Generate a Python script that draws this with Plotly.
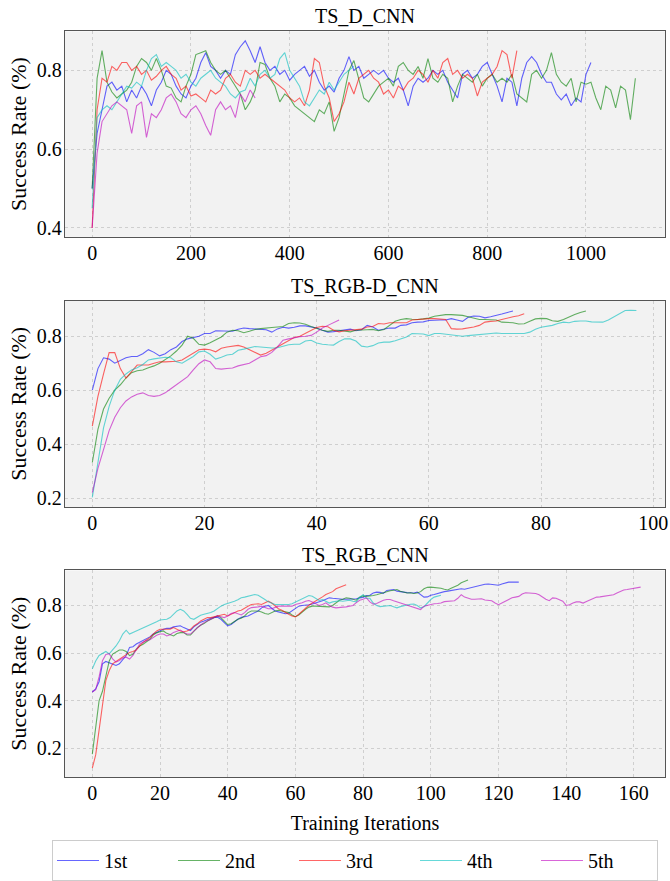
import plotly.graph_objects as go

# ---------------- data ----------------
run_names = ["1st", "2nd", "3rd", "4th", "5th"]

# TS_D_CNN (sampled every 10 iterations)
d_step = 10
d_1st = [0.50,0.64,0.70,0.76,0.77,0.75,0.76,0.72,0.75,0.73,0.76,0.74,0.71,0.75,0.77,0.80,0.79,0.76,0.74,0.73,
         0.76,0.78,0.82,0.845,0.81,0.80,0.78,0.80,0.79,0.84,0.86,0.875,0.85,0.82,0.86,0.82,0.80,0.81,0.79,0.80,
         0.775,0.79,0.80,0.81,0.785,0.80,0.77,0.75,0.76,0.745,0.78,0.80,0.835,0.80,0.81,0.78,0.79,0.80,0.79,0.80,
         0.78,0.77,0.78,0.75,0.71,0.76,0.78,0.77,0.78,0.80,0.79,0.80,0.77,0.75,0.73,0.79,0.80,0.78,0.79,0.81,
         0.82,0.79,0.76,0.72,0.78,0.77,0.71,0.78,0.82,0.835,0.82,0.79,0.77,0.77,0.74,0.725,0.74,0.71,0.73,0.72,
         0.79,0.82]
d_2nd = [0.50,0.78,0.85,0.77,0.745,0.73,0.74,0.75,0.77,0.81,0.83,0.82,0.80,0.83,0.80,0.76,0.755,0.73,0.72,0.76,
         0.79,0.84,0.845,0.85,0.82,0.80,0.79,0.80,0.78,0.76,0.74,0.70,0.72,0.75,0.82,0.815,0.78,0.76,0.72,0.74,
         0.73,0.71,0.70,0.69,0.68,0.67,0.70,0.69,0.72,0.645,0.68,0.74,0.80,0.825,0.78,0.73,0.72,0.74,0.76,0.77,
         0.78,0.76,0.81,0.82,0.80,0.79,0.81,0.78,0.83,0.78,0.77,0.79,0.78,0.72,0.76,0.79,0.78,0.77,0.79,0.76,
         0.78,0.79,0.77,0.78,0.77,0.79,0.74,0.73,0.72,0.79,0.80,0.78,0.80,0.845,0.79,0.77,0.76,0.78,0.72,0.77,
         0.765,0.77,0.73,0.70,0.76,0.75,0.705,0.76,0.75,0.675,0.78]
d_3rd = [0.40,0.70,0.78,0.77,0.81,0.80,0.82,0.82,0.80,0.81,0.79,0.80,0.775,0.785,0.80,0.81,0.79,0.78,0.75,0.76,
         0.735,0.74,0.73,0.72,0.75,0.74,0.75,0.78,0.79,0.77,0.76,0.80,0.79,0.80,0.78,0.79,0.78,0.77,0.76,0.75,
         0.73,0.72,0.73,0.71,0.75,0.83,0.82,0.76,0.73,0.67,0.69,0.72,0.77,0.74,0.78,0.79,0.80,0.78,0.77,0.74,
         0.75,0.73,0.76,0.75,0.77,0.78,0.80,0.79,0.77,0.80,0.78,0.82,0.83,0.79,0.80,0.78,0.79,0.78,0.735,0.77,
         0.78,0.79,0.81,0.85,0.84,0.78,0.85]
d_4th = [0.45,0.68,0.70,0.71,0.70,0.72,0.74,0.76,0.755,0.77,0.76,0.80,0.83,0.84,0.81,0.82,0.81,0.80,0.78,0.79,
         0.77,0.76,0.78,0.79,0.80,0.78,0.77,0.76,0.74,0.73,0.745,0.75,0.78,0.76,0.79,0.80,0.78,0.79,0.83,0.845,
         0.80,0.78,0.76,0.72,0.71,0.73,0.75,0.74,0.77,0.75,0.77,0.79,0.80,0.81]
d_5th = [0.40,0.59,0.67,0.69,0.71,0.72,0.71,0.70,0.64,0.71,0.72,0.63,0.69,0.68,0.70,0.73,0.74,0.72,0.69,0.68,
         0.70,0.71,0.69,0.66,0.635,0.70,0.72,0.70,0.71,0.68,0.74,0.72,0.75,0.73]

# TS_RGB-D_CNN (every iteration)
rgbd_1st = [0.60,0.68,0.72,0.715,0.70,0.71,0.72,0.725,0.725,0.735,0.75,0.74,0.727,0.735,0.75,0.76,0.78,0.79,0.795,0.80,
            0.81,0.81,0.82,0.82,0.82,0.818,0.826,0.83,0.828,0.826,0.826,0.824,0.815,0.827,0.833,0.83,0.833,0.838,0.838,0.835,
            0.83,0.822,0.815,0.817,0.82,0.823,0.826,0.82,0.824,0.84,0.834,0.822,0.826,0.83,0.83,0.84,0.842,0.85,0.852,0.853,
            0.858,0.86,0.86,0.86,0.865,0.86,0.855,0.87,0.875,0.874,0.868,0.872,0.876,0.882,0.888,0.893]
rgbd_2nd = [0.332,0.455,0.53,0.57,0.60,0.62,0.645,0.665,0.672,0.675,0.683,0.69,0.70,0.712,0.727,0.745,0.767,0.80,0.792,0.77,
            0.767,0.776,0.785,0.797,0.815,0.822,0.82,0.813,0.818,0.825,0.828,0.829,0.832,0.834,0.836,0.847,0.85,0.849,0.844,0.836,
            0.828,0.822,0.818,0.822,0.822,0.818,0.816,0.822,0.822,0.824,0.825,0.82,0.825,0.84,0.855,0.862,0.865,0.863,0.862,0.864,
            0.867,0.874,0.877,0.88,0.88,0.878,0.877,0.872,0.866,0.862,0.862,0.86,0.86,0.852,0.85,0.85,0.845,0.846,0.855,0.864,
            0.866,0.865,0.857,0.855,0.862,0.872,0.88,0.888,0.893]
rgbd_3rd = [0.467,0.577,0.66,0.739,0.739,0.68,0.645,0.67,0.693,0.693,0.693,0.70,0.705,0.705,0.705,0.707,0.712,0.725,0.737,0.75,
            0.752,0.75,0.742,0.755,0.76,0.763,0.766,0.76,0.75,0.74,0.73,0.737,0.75,0.76,0.772,0.785,0.795,0.80,0.81,0.822,
            0.832,0.837,0.835,0.822,0.816,0.82,0.822,0.822,0.826,0.834,0.836,0.847,0.845,0.85,0.85,0.848,0.85,0.86,0.862,0.863,
            0.865,0.865,0.863,0.862,0.828,0.826,0.827,0.83,0.834,0.84,0.852,0.855,0.856,0.862,0.868,0.872,0.876,0.883]
rgbd_4th = [0.203,0.33,0.46,0.54,0.60,0.64,0.66,0.675,0.683,0.695,0.712,0.716,0.72,0.722,0.72,0.705,0.70,0.712,0.725,0.742,
            0.745,0.733,0.715,0.722,0.73,0.733,0.748,0.752,0.758,0.762,0.76,0.757,0.756,0.757,0.763,0.768,0.77,0.77,0.782,0.785,
            0.775,0.77,0.768,0.767,0.78,0.79,0.79,0.782,0.763,0.76,0.765,0.775,0.778,0.778,0.783,0.79,0.797,0.81,0.81,0.808,
            0.802,0.81,0.81,0.807,0.805,0.802,0.80,0.802,0.804,0.806,0.808,0.81,0.812,0.81,0.81,0.808,0.81,0.81,0.815,0.826,
            0.833,0.836,0.84,0.847,0.852,0.85,0.855,0.856,0.856,0.853,0.853,0.852,0.86,0.872,0.885,0.895,0.896,0.895]
rgbd_5th = [0.22,0.31,0.38,0.45,0.50,0.535,0.56,0.575,0.585,0.59,0.58,0.577,0.58,0.59,0.605,0.62,0.635,0.65,0.675,0.698,
            0.712,0.705,0.68,0.678,0.68,0.682,0.69,0.695,0.70,0.712,0.724,0.728,0.74,0.76,0.785,0.79,0.795,0.798,0.80,0.803,
            0.815,0.83,0.84,0.85,0.86]

# TS_RGB_CNN (every iteration)
rgb_1st = [0.437,0.45,0.48,0.555,0.565,0.56,0.555,0.548,0.555,0.575,0.59,0.624,0.627,0.638,0.645,0.652,0.66,0.668,0.68,0.687,
           0.693,0.70,0.704,0.704,0.71,0.714,0.715,0.707,0.70,0.695,0.71,0.72,0.73,0.735,0.742,0.746,0.75,0.75,0.742,0.728,
           0.714,0.72,0.732,0.742,0.75,0.752,0.756,0.763,0.77,0.777,0.79,0.797,0.80,0.79,0.777,0.773,0.77,0.765,0.767,0.777,
           0.79,0.797,0.80,0.80,0.803,0.806,0.81,0.817,0.82,0.826,0.832,0.83,0.828,0.828,0.826,0.826,0.826,0.828,0.828,0.832,
           0.834,0.842,0.843,0.852,0.856,0.855,0.851,0.863,0.865,0.867,0.86,0.857,0.855,0.854,0.853,0.852,0.856,0.845,0.835,0.836,
           0.843,0.846,0.85,0.856,0.858,0.86,0.862,0.865,0.868,0.87,0.868,0.872,0.874,0.878,0.884,0.888,0.889,0.89,0.888,0.886,
           0.885,0.89,0.895,0.898,0.898,0.898,0.898]
rgb_2nd = [0.176,0.29,0.40,0.44,0.51,0.567,0.596,0.605,0.613,0.613,0.607,0.59,0.595,0.617,0.63,0.637,0.648,0.658,0.676,0.685,
           0.69,0.693,0.683,0.676,0.672,0.682,0.686,0.686,0.676,0.676,0.693,0.707,0.717,0.724,0.735,0.742,0.749,0.756,0.749,0.735,
           0.72,0.723,0.732,0.742,0.746,0.756,0.77,0.777,0.777,0.777,0.773,0.766,0.763,0.77,0.777,0.78,0.777,0.774,0.77,0.76,
           0.753,0.76,0.774,0.784,0.793,0.797,0.797,0.796,0.794,0.794,0.794,0.80,0.81,0.822,0.826,0.832,0.83,0.825,0.822,0.835,
           0.84,0.838,0.839,0.842,0.845,0.85,0.852,0.858,0.862,0.864,0.867,0.86,0.855,0.852,0.853,0.85,0.852,0.858,0.87,0.876,
           0.877,0.876,0.874,0.872,0.868,0.865,0.872,0.878,0.885,0.895,0.90,0.907]
rgb_3rd = [0.118,0.173,0.277,0.39,0.485,0.527,0.555,0.565,0.575,0.585,0.596,0.603,0.607,0.613,0.63,0.645,0.655,0.665,0.68,0.693,
           0.70,0.70,0.697,0.70,0.707,0.70,0.693,0.69,0.693,0.70,0.714,0.723,0.735,0.742,0.749,0.749,0.752,0.756,0.759,0.763,
           0.756,0.763,0.77,0.777,0.78,0.79,0.797,0.804,0.807,0.807,0.804,0.81,0.818,0.81,0.797,0.786,0.78,0.77,0.763,0.756,
           0.752,0.763,0.777,0.79,0.801,0.81,0.818,0.827,0.836,0.846,0.853,0.858,0.87,0.876,0.882,0.887]
rgb_4th = [0.534,0.567,0.59,0.60,0.607,0.597,0.613,0.63,0.652,0.68,0.696,0.68,0.687,0.693,0.70,0.707,0.711,0.717,0.724,0.732,
           0.739,0.739,0.742,0.749,0.763,0.777,0.784,0.777,0.763,0.746,0.742,0.752,0.759,0.763,0.766,0.77,0.777,0.788,0.797,0.804,
           0.808,0.814,0.818,0.824,0.832,0.835,0.839,0.843,0.846,0.843,0.835,0.825,0.815,0.808,0.804,0.804,0.803,0.804,0.804,0.807,
           0.814,0.821,0.828,0.835,0.842,0.839,0.829,0.821,0.825,0.818,0.81,0.815,0.818,0.82,0.818,0.82,0.822,0.818,0.815,0.835,
           0.845,0.83,0.83,0.81,0.80,0.795,0.797,0.799,0.80,0.795,0.79,0.795,0.80,0.802,0.805,0.806,0.80,0.79,0.795,0.81,
           0.825,0.835,0.84,0.843]
rgb_5th = [0.437,0.447,0.50,0.568,0.594,0.597,0.576,0.562,0.569,0.579,0.583,0.575,0.59,0.614,0.639,0.646,0.653,0.656,0.665,0.675,
           0.68,0.68,0.672,0.677,0.687,0.693,0.697,0.687,0.68,0.68,0.693,0.707,0.718,0.728,0.735,0.742,0.752,0.756,0.753,0.749,
           0.756,0.766,0.77,0.766,0.76,0.77,0.784,0.791,0.791,0.794,0.797,0.79,0.786,0.786,0.793,0.797,0.797,0.797,0.797,0.797,
           0.804,0.807,0.811,0.818,0.821,0.815,0.807,0.80,0.804,0.811,0.80,0.793,0.79,0.79,0.793,0.794,0.797,0.80,0.812,0.822,
           0.826,0.832,0.815,0.805,0.808,0.815,0.822,0.825,0.825,0.82,0.815,0.81,0.805,0.80,0.795,0.79,0.786,0.783,0.797,0.801,
           0.806,0.807,0.808,0.81,0.816,0.818,0.82,0.82,0.83,0.845,0.835,0.83,0.826,0.826,0.828,0.828,0.823,0.82,0.82,0.81,
           0.803,0.81,0.818,0.825,0.832,0.835,0.838,0.848,0.853,0.852,0.851,0.85,0.845,0.835,0.826,0.82,0.832,0.83,0.823,0.818,
           0.80,0.803,0.81,0.815,0.815,0.81,0.817,0.822,0.828,0.835,0.836,0.838,0.84,0.842,0.845,0.852,0.858,0.865,0.867,0.87,
           0.873,0.875,0.877]

panel_titles = ["TS_D_CNN", "TS_RGB-D_CNN", "TS_RGB_CNN"]
x_ticks = [[0, 200, 400, 600, 800, 1000], [0, 20, 40, 60, 80, 100], [0, 20, 40, 60, 80, 100, 120, 140, 160]]
y_ticks = [[0.4, 0.6, 0.8], [0.2, 0.4, 0.6, 0.8], [0.2, 0.4, 0.6, 0.8]]

# ---------------- styling ----------------
colors = ["rgb(0,0,255)", "rgb(0,128,0)", "rgb(255,0,0)", "rgb(0,191,191)", "rgb(191,0,191)"]
FONT = "Liberation Serif"
W, H = 670, 881

def py(p):
    return 1 - p / H

def f(size):
    return dict(family=FONT, size=size, color="black")

x_dom = [65 / W, 665 / W]
y_doms = [[py(239), py(31.7)], [py(511.7), py(303.3)], [py(784), py(575.7)]]
x_ranges = [[-55, 1160], [-4.87, 102.1], [-8.07, 169.2]]
y_ranges = [[0.3774, 0.8989], [0.167, 0.932], [0.0807, 0.9468]]

panels = [
    (d_step, [d_1st, d_2nd, d_3rd, d_4th, d_5th]),
    (1, [rgbd_1st, rgbd_2nd, rgbd_3rd, rgbd_4th, rgbd_5th]),
    (1, [rgb_1st, rgb_2nd, rgb_3rd, rgb_4th, rgb_5th]),
]

fig = go.Figure()
for p, (step, series) in enumerate(panels):
    xa = "x" if p == 0 else f"x{p+1}"
    ya = "y" if p == 0 else f"y{p+1}"
    for k, vals in enumerate(series):
        fig.add_trace(go.Scatter(
            x=[i * step for i in range(len(vals))], y=vals,
            mode="lines", name=run_names[k],
            line=dict(color=colors[k], width=1.1), opacity=0.6,
            xaxis=xa, yaxis=ya, showlegend=(p == 0), legendgroup=run_names[k],
            hoverinfo="skip",
        ))

layout = dict(
    width=W, height=H,
    margin=dict(l=0, r=0, t=0, b=0),
    paper_bgcolor="white", plot_bgcolor="#f2f2f2",
    font=f(20),
    showlegend=True,
    legend=dict(
        orientation="h", x=52 / W, xanchor="left", y=py(848), yanchor="top",
        bordercolor="#cccccc", borderwidth=1, bgcolor="white",
        font=f(20), itemwidth=42,
        entrywidth=64, entrywidthmode="pixels", tracegroupgap=0,
    ),
)
for p in range(3):
    sx = "xaxis" if p == 0 else f"xaxis{p+1}"
    sy = "yaxis" if p == 0 else f"yaxis{p+1}"
    yid = "y" if p == 0 else f"y{p+1}"
    xid = "x" if p == 0 else f"x{p+1}"
    layout[sx] = dict(
        domain=x_dom, anchor=yid, range=x_ranges[p], tickvals=x_ticks[p],
        showgrid=True, gridcolor="#cfcfcf", griddash="dot", gridwidth=1,
        zeroline=False, showline=True, mirror=True, linecolor="#555555", linewidth=1.3,
        ticks="", tickfont=f(20), automargin=False, ticklabelstandoff=-2,
    )
    layout[sy] = dict(
        domain=y_doms[p], anchor=xid, range=y_ranges[p], tickvals=y_ticks[p],
        tickformat=".1f",
        showgrid=True, gridcolor="#cfcfcf", griddash="dot", gridwidth=1,
        zeroline=False, showline=True, mirror=True, linecolor="#555555", linewidth=1.3,
        ticks="", tickfont=f(20), automargin=False, ticklabelstandoff=-2,
        title=dict(text="Success Rate (%)", font=f(22), standoff=4),
    )
layout["xaxis3"]["title"] = dict(text="Training Iterations", font=f(20), standoff=12)

fig.update_layout(**layout)

for p in range(3):
    fig.add_annotation(
        text=panel_titles[p], x=(x_dom[0] + x_dom[1]) / 2, y=y_doms[p][1],
        xref="paper", yref="paper", xanchor="center", yanchor="bottom",
        yshift=2, showarrow=False, font=f(20),
    )

fig.write_html("out.html", config={"displayModeBar": False},
               post_script="document.body.style.margin='0px';")
